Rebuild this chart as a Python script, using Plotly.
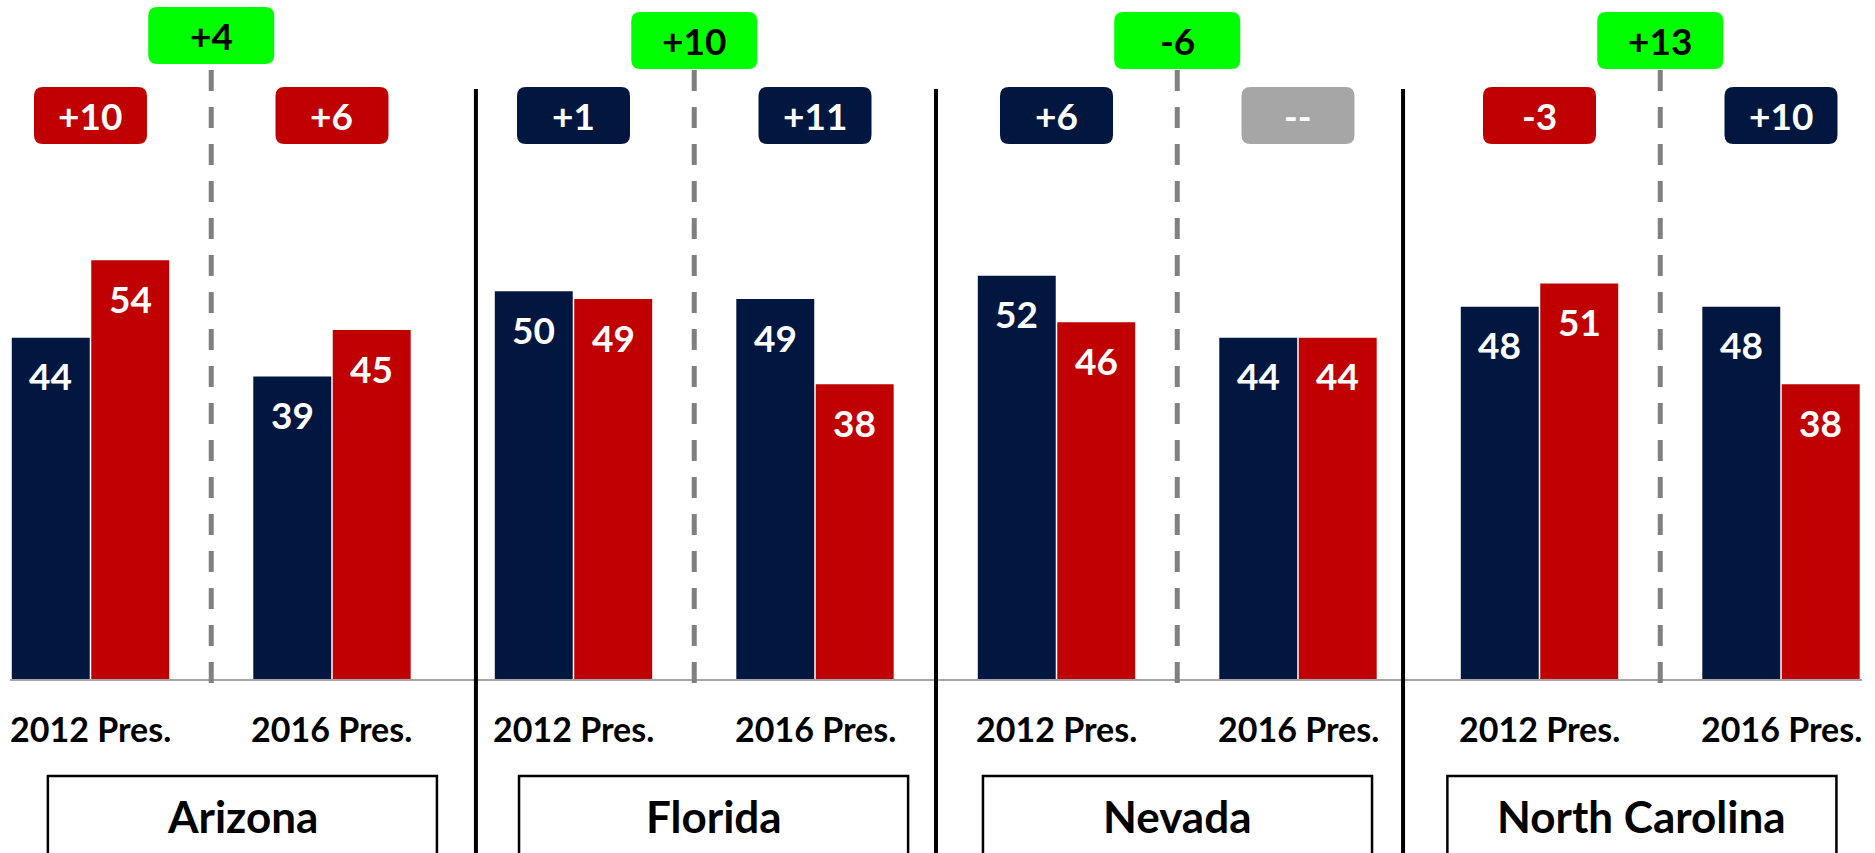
import plotly.graph_objects as go

# ---------------- data ----------------
states = ["Arizona", "Florida", "Nevada", "North Carolina"]
elections = ["2012 Pres.", "2016 Pres."]
dem_share = [44, 39, 50, 49, 52, 44, 48, 48]
rep_share = [54, 45, 49, 38, 46, 44, 51, 38]
margin_labels = ["+10", "+6", "+1", "+11", "+6", "--", "-3", "+10"]
margin_party = ["R", "R", "D", "D", "D", "N", "R", "D"]
shift_labels = ["+4", "+10", "-6", "+13"]

# ---------------- styling / layout helpers ----------------
NAVY = "#021740"
RED = "#C00000"
GREEN = "#00FF00"
GREY_BOX = "#A6A6A6"
party_color = {"D": NAVY, "R": RED, "N": GREY_BOX}

W, H = 1875, 853
ML, MR, MT = 10, 13, 0
PLOT_H = 679
MB = H - MT - PLOT_H
PX_PER_UNIT = 7.755
X_RANGE = [-0.3333, 7.3354]
FONT = "Lato"

# decoration positions (x in category units, y in pixels from top)
divider_x = [1.596, 3.501, 5.435]
statebox_x = [0.629, 2.580, 4.501, 6.424]
statebox_w = 1.611
green_top = [7, 12, 12, 12]


def py(px):
    """pixel-from-top -> paper y"""
    return 1 - (px - MT) / PLOT_H


def rrect(w, top, h, r):
    x0, x1 = -w / 2, w / 2
    y0, y1 = -top, -(top + h)
    return (f"M {x0+r},{y0} L {x1-r},{y0} Q {x1},{y0} {x1},{y0-r} "
            f"L {x1},{y1+r} Q {x1},{y1} {x1-r},{y1} L {x0+r},{y1} "
            f"Q {x0},{y1} {x0},{y1+r} L {x0},{y0-r} Q {x0},{y0} {x0+r},{y0} Z")


xpos = list(range(len(dem_share)))

fig = go.Figure()
fig.add_trace(go.Bar(x=xpos, y=dem_share, marker=dict(color=NAVY, line=dict(width=0)),
                     hoverinfo="skip", name="Dem"))
fig.add_trace(go.Bar(x=xpos, y=rep_share, marker=dict(color=RED, line=dict(width=0)),
                     hoverinfo="skip", name="Rep"))

shapes = []
annotations = []

# bar value labels
bar_off = 0.1646
for i in xpos:
    for val, dx in ((dem_share[i], -bar_off), (rep_share[i], bar_off)):
        annotations.append(dict(x=i + dx, y=val, xref="x", yref="y", text=f"<b>{val}</b>",
                                showarrow=False, yanchor="middle", yshift=-38,
                                font=dict(family=FONT, size=37, color="white")))
    # election tick labels
    annotations.append(dict(x=i, y=0, xref="x", yref="y",
                            text=f"<b>{elections[i % 2]}</b>", showarrow=False,
                            yanchor="middle", yshift=-49.5,
                            font=dict(family=FONT, size=34, color="black")))
    # margin boxes
    shapes.append(dict(type="path", xref="x", yref="paper", xsizemode="pixel",
                       ysizemode="pixel", xanchor=i, yanchor=1,
                       path=rrect(113, 87, 57, 9),
                       fillcolor=party_color[margin_party[i]], line=dict(width=0)))
    annotations.append(dict(x=i, y=py(115.5), xref="x", yref="paper",
                            text=f"<b>{margin_labels[i]}</b>", showarrow=False,
                            yanchor="middle",
                            font=dict(family=FONT, size=37, color="white")))

for s, name in enumerate(states):
    mid = 2 * s + 0.5
    # dashed separator between elections
    shapes.append(dict(type="line", xref="x", yref="paper", x0=mid, x1=mid,
                       y0=py(70), y1=py(684),
                       line=dict(color="#808080", width=5, dash="21px,16px")))
    # green shift box
    shapes.append(dict(type="path", xref="x", yref="paper", xsizemode="pixel",
                       ysizemode="pixel", xanchor=mid, yanchor=1,
                       path=rrect(126, green_top[s], 57, 9),
                       fillcolor=GREEN, line=dict(width=0)))
    annotations.append(dict(x=mid, y=py(green_top[s] + 28.5), xref="x", yref="paper",
                            text=f"<b>{shift_labels[s]}</b>", showarrow=False,
                            yanchor="middle",
                            font=dict(family=FONT, size=37, color="black")))
    # state name box
    cx = statebox_x[s]
    shapes.append(dict(type="rect", xref="x", yref="paper",
                       x0=cx - statebox_w / 2, x1=cx + statebox_w / 2,
                       y0=py(776), y1=py(862),
                       line=dict(color="black", width=2.5), fillcolor="rgba(0,0,0,0)"))
    annotations.append(dict(x=cx, y=py(816), xref="x", yref="paper",
                            text=f"<b>{name}</b>", showarrow=False, yanchor="middle",
                            font=dict(family=FONT, size=44, color="black")))

for dx in divider_x:
    shapes.append(dict(type="line", xref="x", yref="paper", x0=dx, x1=dx,
                       y0=py(89), y1=py(862), line=dict(color="black", width=4)))

fig.update_layout(
    width=W, height=H,
    margin=dict(l=ML, r=MR, t=MT, b=MB, pad=0),
    paper_bgcolor="white", plot_bgcolor="white",
    barmode="group", bargap=0.342, bargroupgap=0.019,
    showlegend=False,
    shapes=shapes, annotations=annotations,
    xaxis=dict(range=X_RANGE, showgrid=False, zeroline=False, showticklabels=False,
               ticks="", showline=True, linecolor="#A6A6A6", linewidth=2, fixedrange=True),
    yaxis=dict(range=[0, PLOT_H / PX_PER_UNIT], showgrid=False, zeroline=False,
               showticklabels=False, ticks="", showline=False, fixedrange=True),
)

fig.write_html(
    "out.html",
    config={"displayModeBar": False},
    post_script="document.body.style.margin='0';document.body.style.overflow='hidden';",
)
